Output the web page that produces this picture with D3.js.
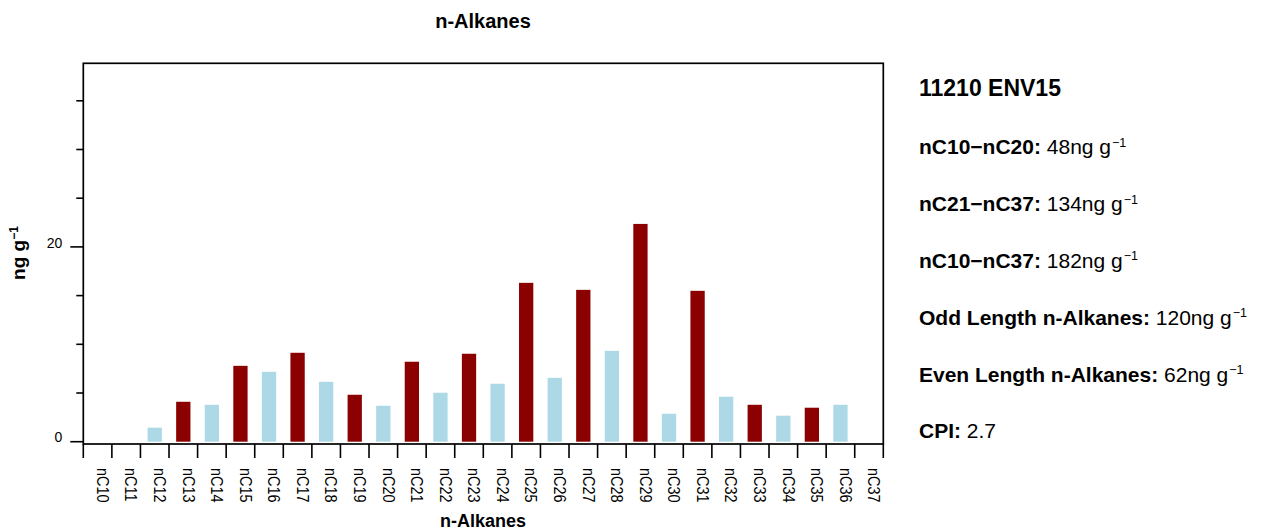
<!DOCTYPE html>
<html>
<head>
<meta charset="utf-8">
<script src="https://cdn.jsdelivr.net/npm/d3@7"></script>
<style>
  html, body { margin: 0; padding: 0; background: #fff; }
  svg { display: block; font-family: "Liberation Sans", Arial, Helvetica, sans-serif; }
</style>
</head>
<body>
<svg id="chart" width="1263" height="531"></svg>
<script>
// n-alkane chain lengths and their concentrations (ng g^-1)
const categories = ["nC10","nC11","nC12","nC13","nC14","nC15","nC16","nC17","nC18","nC19",
                    "nC20","nC21","nC22","nC23","nC24","nC25","nC26","nC27","nC28","nC29",
                    "nC30","nC31","nC32","nC33","nC34","nC35","nC36","nC37"];
const values = [0, 0, 1.44, 4.10, 3.79, 7.79, 7.18, 9.13, 6.15, 4.82,
                3.69, 8.21, 5.03, 9.03, 5.95, 16.31, 6.56, 15.59, 9.33, 22.36,
                2.87, 15.49, 4.62, 3.79, 2.67, 3.49, 3.79, 0];

// y-axis ticks: every 5, labelled at 0 and 20
const yTicks = [0, 5, 10, 15, 20, 25, 30, 35];
const yTickLabels = [0, 20];

// sample summary shown beside the plot
const sampleName = "11210 ENV15";
const summaryLabels = ["nC10\u2212nC20:", "nC21\u2212nC37:", "nC10\u2212nC37:",
                       "Odd Length n-Alkanes:", "Even Length n-Alkanes:", "CPI:"];
const summaryValues = ["48", "134", "182", "120", "62", "2.7"];
const summaryHasUnit = [true, true, true, true, true, false];

const oddColor = "#8B0000";
const evenColor = "#ADD8E6";

const svg = d3.select("#chart");

const plot = { left: 83.3, right: 883.3, top: 63.3, bottom: 444 };

const x = d3.scaleBand()
  .domain(categories)
  .range([plot.left, plot.right])
  .paddingInner(0).paddingOuter(0);

const y = d3.scaleLinear()
  .domain([-0.235, 38.85])
  .range([plot.bottom, plot.top]);

const carbon = name => +name.replace("nC", "");

// bars
const barW = x.bandwidth() * 0.5;
svg.append("g").selectAll("rect")
  .data(categories.map((c, i) => ({ c, v: values[i] })).filter(d => d.v > 0))
  .join("rect")
  .attr("x", d => x(d.c) + (x.bandwidth() - barW) / 2)
  .attr("y", d => y(d.v))
  .attr("width", barW)
  .attr("height", d => y(0) - y(d.v))
  .attr("fill", d => carbon(d.c) % 2 === 1 ? oddColor : evenColor);

// plot frame
svg.append("rect")
  .attr("x", plot.left).attr("y", plot.top)
  .attr("width", plot.right - plot.left)
  .attr("height", plot.bottom - plot.top)
  .attr("fill", "none").attr("stroke", "#000").attr("stroke-width", 1.7);

// y ticks (longer where labelled)
const yAxis = svg.append("g");
yAxis.selectAll("line")
  .data(yTicks)
  .join("line")
  .attr("x1", d => yTickLabels.includes(d) ? plot.left - 13 : plot.left - 7)
  .attr("x2", plot.left)
  .attr("y1", d => y(d)).attr("y2", d => y(d))
  .attr("stroke", "#000").attr("stroke-width", 1.6);
yAxis.selectAll("text")
  .data(yTickLabels)
  .join("text")
  .attr("x", plot.left - 21)
  .attr("y", d => y(d))
  .attr("dy", "0.05em")
  .attr("text-anchor", "end")
  .attr("font-size", 14)
  .text(d => d);

// x ticks at band boundaries
const xEdges = categories.map(c => x(c)).concat([plot.right]);
svg.append("g").selectAll("line")
  .data(xEdges)
  .join("line")
  .attr("x1", d => d).attr("x2", d => d)
  .attr("y1", plot.bottom).attr("y2", plot.bottom + 14)
  .attr("stroke", "#000").attr("stroke-width", 1.6);

// x tick labels, reading downward
svg.append("g").selectAll("text")
  .data(categories)
  .join("text")
  .attr("transform", d => `translate(${x(d) + x.bandwidth() / 2 - 0.8},468) rotate(90) scale(1,1.12)`)
  .attr("font-size", 14.5)
  .text(d => d);

// titles
svg.append("text")
  .attr("x", 483).attr("y", 28)
  .attr("text-anchor", "middle")
  .attr("font-size", 20).attr("font-weight", "bold")
  .text("n-Alkanes");

svg.append("text")
  .attr("x", 483).attr("y", 527)
  .attr("text-anchor", "middle")
  .attr("font-size", 18).attr("font-weight", "bold")
  .text("n-Alkanes");

const yTitle = svg.append("text")
  .attr("transform", "translate(25,253) rotate(-90)")
  .attr("text-anchor", "middle")
  .attr("font-size", 19).attr("font-weight", "bold");
yTitle.append("tspan").text("ng g");
yTitle.append("tspan").attr("font-size", 12).attr("dy", -7).text("\u22121");

// summary panel
const panelX = 919;
svg.append("text")
  .attr("x", panelX).attr("y", 96)
  .attr("font-size", 23).attr("font-weight", "bold")
  .text(sampleName);

const lineY = d3.scaleLinear().domain([0, summaryLabels.length - 1]).range([154.3, 438.3]);
summaryLabels.forEach((lab, i) => {
  const t = svg.append("text")
    .attr("x", panelX).attr("y", lineY(i))
    .attr("font-size", 21);
  t.append("tspan").attr("font-weight", "bold").text(lab);
  t.append("tspan").text(" " + summaryValues[i] + (summaryHasUnit[i] ? "ng g" : ""));
  if (summaryHasUnit[i]) {
    t.append("tspan").attr("font-size", 12.5).attr("dy", -7.5).attr("dx", 1).text("\u22121");
  }
});
</script>
</body>
</html>
